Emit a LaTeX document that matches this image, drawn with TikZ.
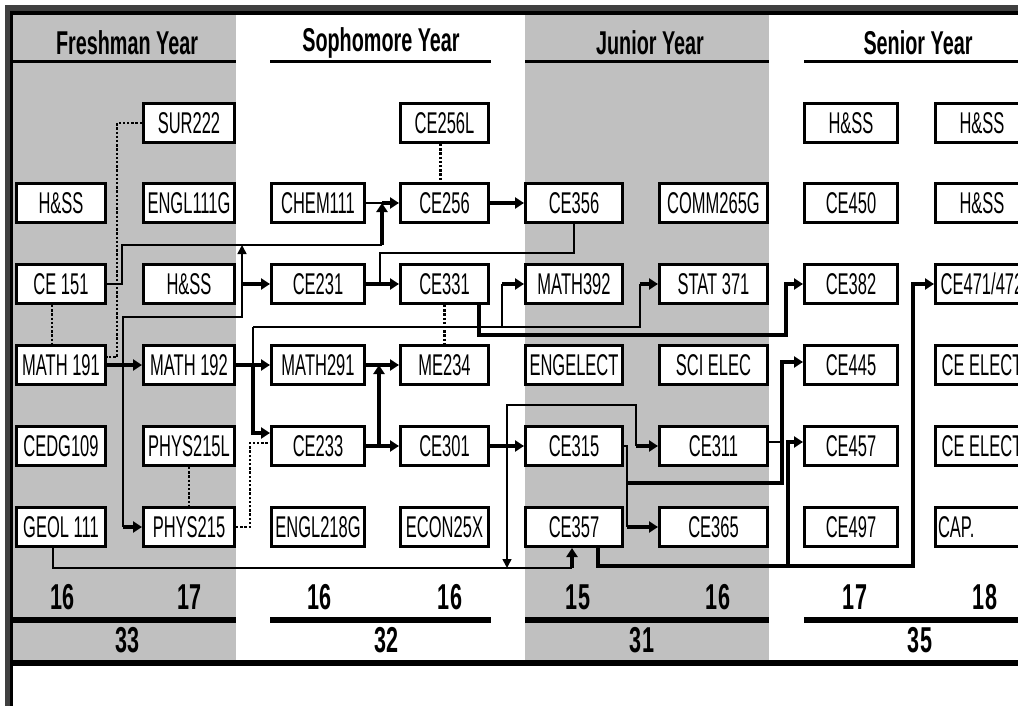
\documentclass[tikz,border=0pt]{standalone}
\usepackage{fontspec}
\setmainfont{Liberation Sans}
\newfontfamily\narrow[FakeStretch=0.6]{Liberation Sans}
\newfontfamily\coursefont[FakeStretch=0.55]{Liberation Sans}
\usetikzlibrary{arrows.meta, positioning, calc}
\definecolor{colgray}{HTML}{C0C0C0}
\definecolor{framegray}{HTML}{404040}

\begin{document}
\begin{tikzpicture}[x=0.5pt, y=-0.5pt,
    course/.style={draw, fill=white, line width=1.5pt, minimum width=46.5pt, minimum height=19.5pt, inner sep=0pt, font=\coursefont\fontsize{15}{15}\selectfont},
    head/.style={font=\narrow\bfseries\fontsize{16.5}{16.5}\selectfont},
    credit/.style={font=\narrow\bfseries\fontsize{18}{18}\selectfont},
    pre/.style={line width=2pt, -{Triangle[length=4.5pt,width=5.5pt]}},
    wire/.style={line width=0.8pt},
    wirearrow/.style={line width=0.8pt, -{Triangle[length=4.5pt,width=4.5pt]}},
    coreq/.style={line width=1.2pt, dash pattern=on 1.2pt off 0.9pt},
    rule/.style={line width=3pt}]
    \useasboundingbox (0,0) rectangle (1018,706);
    \fill[white] (0,0) rectangle (1018,706);

    % year columns and frame
    \fill[colgray] (13,15) rectangle (236,660);
    \fill[colgray] (525,15) rectangle (769,660);
    \fill[framegray] (5,5) rectangle (1018,11);
    \fill[black] (10,11) rectangle (1018,15);
    \fill[framegray] (5,5) rectangle (10,706);
    \fill[black] (10,11) rectangle (13,706);

    % headings
    \node[head] (fresh) at (127,43) {Freshman Year};
    \node[head] (soph) at (381,43) {Sophomore Year};
    \node[head] (junior) at (650,43) {Junior Year};
    \node[head] (senior) at (918,43) {Senior Year};
    \draw[line width=1.5pt] (13,61.5) -- (236,61.5);
    \draw[line width=1.5pt] (270,61.5) -- (491,61.5);
    \draw[line width=1.5pt] (525,61.5) -- (769,61.5);
    \draw[line width=1.5pt] (804,61.5) -- (1018,61.5);

    % row 0
    \node[course, minimum width=45.5pt] (sur222) at (189,123) {SUR222};
    \node[course, minimum width=44pt] (ce256l) at (444.5,123) {CE256L};
    \node[course] (hssC) at (851,123) {H\&SS};
    \node[course] (hssD) at (982,123) {H\&SS};
    % row 1
    \node[course, minimum width=44.5pt] (hssA) at (61,203) {H\&SS};
    \node[course, minimum width=45.5pt] (engl111g) at (189,203) {ENGL111G};
    \node[course] (chem111) at (318,203) {CHEM111};
    \node[course, minimum width=44pt] (ce256) at (444.5,203) {CE256};
    \node[course, minimum width=48.5pt] (ce356) at (574,203) {CE356};
    \node[course, minimum width=54pt] (comm265g) at (713.5,203) {COMM265G};
    \node[course] (ce450) at (851,203) {CE450};
    \node[course] (hssE) at (982,203) {H\&SS};
    % row 2
    \node[course, minimum width=44.5pt] (ce151) at (61,284) {CE 151};
    \node[course, minimum width=45.5pt] (hssB) at (189,284) {H\&SS};
    \node[course] (ce231) at (318,284) {CE231};
    \node[course, minimum width=44pt] (ce331) at (444.5,284) {CE331};
    \node[course, minimum width=48.5pt] (math392) at (574,284) {MATH392};
    \node[course, minimum width=54pt] (stat371) at (713.5,284) {STAT 371};
    \node[course] (ce382) at (851,284) {CE382};
    \node[course] (ce471) at (982,284) {CE471/472};
    % row 3
    \node[course, minimum width=44.5pt] (math191) at (61,365) {MATH 191};
    \node[course, minimum width=45.5pt] (math192) at (189,365) {MATH 192};
    \node[course] (math291) at (318,365) {MATH291};
    \node[course, minimum width=44pt] (me234) at (444.5,365) {ME234};
    \node[course, minimum width=48.5pt] (engelect) at (574,365) {ENGELECT};
    \node[course, minimum width=54pt] (scielec) at (713.5,365) {SCI ELEC};
    \node[course] (ce445) at (851,365) {CE445};
    \node[course] (ceelectA) at (982,365) {CE ELECT};
    % row 4
    \node[course, minimum width=44.5pt] (cedg109) at (61,446) {CEDG109};
    \node[course, minimum width=45.5pt] (phys215l) at (189,446) {PHYS215L};
    \node[course] (ce233) at (318,446) {CE233};
    \node[course, minimum width=44pt] (ce301) at (444.5,446) {CE301};
    \node[course, minimum width=48.5pt] (ce315) at (574,446) {CE315};
    \node[course, minimum width=54pt] (ce311) at (713.5,446) {CE311};
    \node[course] (ce457) at (851,446) {CE457};
    \node[course] (ceelectB) at (982,446) {CE ELECT};
    % row 5
    \node[course, minimum width=44.5pt] (geol111) at (61,527) {GEOL 111};
    \node[course, minimum width=45.5pt] (phys215) at (189,527) {PHYS215};
    \node[course] (engl218g) at (318,527) {ENGL218G};
    \node[course, minimum width=44pt] (econ25x) at (444.5,527) {ECON25X};
    \node[course, minimum width=48.5pt] (ce357) at (574,527) {CE357};
    \node[course, minimum width=54pt] (ce365) at (713.5,527) {CE365};
    \node[course] (ce497) at (851,527) {CE497};
    \node[course] (cap) at (982,527) {\makebox[44pt][l]{CAP.}};

    % co-requisites
    \draw[coreq] (sur222.west) -- ++(-25,0) |- ([yshift=4pt]math191.east);
    \draw[coreq] ([xshift=-4.5pt]ce151.south) -- ([xshift=-4.5pt]math191.north);
    \draw[coreq] ([xshift=-2pt]ce256l.south) -- ([xshift=-2pt]ce256.north);
    \draw[coreq] (ce331.south) -- (me234.north);
    \draw[coreq] (phys215l.south) -- (phys215.north);
    \draw[coreq] (phys215.east) -- ++(14,0) |- ([yshift=1.5pt]ce233.west);

    % freshman prerequisites
    \coordinate (jCE) at (382,245);
    \draw[wire] (ce151.east) -- ++(15,0) |- (jCE);
    \draw[wire] (chem111.east) -- (jCE |- chem111.east);
    \draw[pre] (jCE) -- (jCE |- chem111.east);
    \draw[pre] (jCE |- chem111.east) -- (ce256.west);
    \draw[pre] (math191.east) -- (math192.west);
    \coordinate (jMa) at (123,317);
    \coordinate (jMb) at (242,317);
    \draw[wirearrow] (jMa |- math191.east) -- (jMa) -- (jMb) -- (jMb |- jCE);
    \draw[wire] (jMa |- math191.east) -- (jMa |- phys215.west);
    \draw[pre] (jMa |- phys215.west) -- (phys215.west);
    \draw[pre] (jMb |- ce231.west) -- (ce231.west);
    \draw[pre] (math192.east) -- (math291.west);
    \coordinate (jMc) at (253,327);
    \coordinate (jMd) at (502,327);
    \coordinate (jMe) at (640,327);
    \draw[wire] (jMc) -- (jMc |- math192.east);
    \draw[pre] (jMc |- math192.east) |- ([yshift=6.5pt]ce233.west);
    \draw[wire] (jMc) -- (jMe) -- (jMe |- stat371.west);
    \draw[wire] (jMd) -- (jMd |- math392.west);
    \draw[pre] (jMd |- math392.west) -- (math392.west);
    \draw[pre] (jMe |- stat371.west) -- (stat371.west);

    % sophomore prerequisites
    \draw[pre] (ce231.east) -- (ce331.west);
    \coordinate (jCa) at (380,253);
    \draw[wire] (ce356.south) |- (jCa) -- (jCa |- ce331.west);
    \coordinate (jCb) at (786,335);
    \draw[pre] ([xshift=-5.5pt]ce331.south east) |- (jCb) |- (ce382.west);
    \draw[pre] (ce256.east) -- (ce356.west);
    \draw[pre] (math291.east) -- (me234.west);
    \draw[pre] (ce233.east) -- (ce301.west);
    \coordinate (jCc) at (379,446);
    \draw[pre] (jCc) -- (jCc |- me234.west);
    \draw[pre] (ce301.east) -- (ce315.west);
    \coordinate (jCd) at (507,405);
    \coordinate (jCe) at (636,405);
    \coordinate (jGe) at (572,568);
    \draw[wire] (jCd |- ce301.east) -- (jCd) -- (jCe) -- (jCe |- ce311.west);
    \draw[pre] (jCe |- ce311.west) -- (ce311.west);
    \draw[wirearrow] (jCd |- ce301.east) -- (jCd |- jGe);
    \draw[wire] ([xshift=-4pt]geol111.south) |- (jGe);
    \draw[pre] (jGe) -- (jGe |- ce357.south);

    % junior prerequisites
    \coordinate (jCg) at (627,483);
    \coordinate (jCh) at (782,483);
    \draw[wire] (ce315.east) -| (jCg |- ce365.west);
    \draw[pre] (jCg |- ce365.west) -- (ce365.west);
    \draw[pre] (jCg) -- (jCh) |- ([yshift=1.5pt]ce445.west);
    \draw[wire] ([yshift=2pt]ce311.east) -- ([yshift=2pt]ce311.east -| jCh);
    \coordinate (jCi) at (788,566);
    \coordinate (jCj) at (913,566);
    \draw[pre] ([xshift=12pt]ce357.south) |- (jCj) |- (ce471.west);
    \draw[pre] (jCi) |- ([yshift=2pt]ce457.west);

    % credits
    \node[credit] (crA) at (63,597) {16};
    \node[credit] (crB) at (190,597) {17};
    \node[credit] (crC) at (320,597) {16};
    \node[credit] (crD) at (450,597) {16};
    \node[credit] (crE) at (578,597) {15};
    \node[credit] (crF) at (718,597) {16};
    \node[credit] (crG) at (855,597) {17};
    \node[credit] (crH) at (985,597) {18};
    \draw[rule] (13,620) -- (236,620);
    \draw[rule] (270,620) -- (491,620);
    \draw[rule] (525,620) -- (769,620);
    \draw[rule] (804,620) -- (1018,620);
    \node[credit] (totA) at (128,640) {33};
    \node[credit] (totB) at (387,640) {32};
    \node[credit] (totC) at (642,640) {31};
    \node[credit] (totD) at (920,640) {35};
    \draw[rule] (13,663) -- (1018,663);
\end{tikzpicture}
\end{document}
